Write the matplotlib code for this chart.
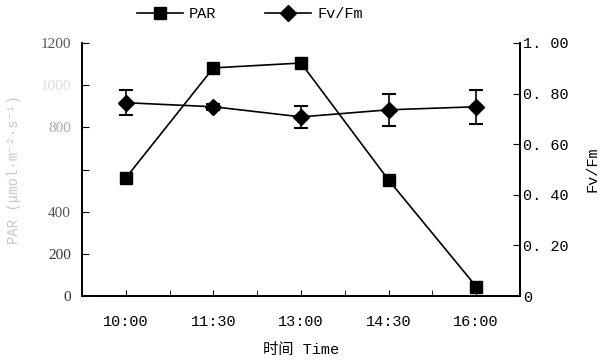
import matplotlib
matplotlib.use("Agg")
import matplotlib.pyplot as plt
from matplotlib.lines import Line2D
from matplotlib.ticker import MultipleLocator

plt.rcParams["font.family"] = ["Liberation Mono", "Noto Sans CJK SC", "DejaVu Sans"]

# data
times = ["10:00", "11:30", "13:00", "14:30", "16:00"]
par = [560, 1082, 1105, 550, 45]
fvfm = [0.764, 0.748, 0.708, 0.736, 0.748]
fvfm_err = [0.050, 0.012, 0.042, 0.064, 0.068]

par_ticks = [0, 200, 400, 600, 800, 1000, 1200]
par_ticklabels = ["0", "200", "400", "", "800", "1000", "1200"]
fv_ticks = [0, 0.2, 0.4, 0.6, 0.8, 1.0]
fv_ticklabels = ["0", "0. 20", "0. 40", "0. 60", "0. 80", "1. 00"]

fig, ax = plt.subplots(figsize=(6.03, 3.64), dpi=100)
fig.subplots_adjust(left=82/603, right=520/603, top=1-43/364, bottom=1-296/364)
ax2 = ax.twinx()

x = list(range(len(times)))
ax.plot(x, par, color="black", lw=1.2, marker="s", markersize=9, zorder=3)
ax2.errorbar(x, fvfm, yerr=fvfm_err, color="black", lw=1.2, marker="D",
             markersize=8, capsize=5, elinewidth=1.2, capthick=1.5, zorder=3)

ax.set_xlim(-0.5, 4.5)
ax.set_ylim(0, 1200)
ax2.set_ylim(0, 1.0)

ax.set_xticks(x)
ax.set_xticklabels(times, fontsize=11)
ax.xaxis.set_minor_locator(MultipleLocator(0.5))
ax.tick_params(axis="x", which="both", direction="in", length=4, pad=14)

ax.set_yticks(par_ticks)
ax.set_yticklabels(par_ticklabels, fontsize=11, family="Liberation Serif")
for lab, c in zip(ax.get_yticklabels(), ["#333333", "#333333", "#555555", "#cccccc",
                                          "#aaaaaa", "#dddddd", "#555555"]):
    lab.set_color(c)
ax.tick_params(axis="y", direction="in", length=5, pad=8)

ax2.set_yticks(fv_ticks)
ax2.set_yticklabels(fv_ticklabels, fontsize=11)
ax2.tick_params(axis="y", direction="in", length=5, pad=2)

for a in (ax, ax2):
    a.spines["top"].set_visible(False)
    for s in a.spines.values():
        s.set_linewidth(1.3)

ax.set_xlabel("时间 Time", fontsize=11, labelpad=10)
ax.set_ylabel("PAR (μmol·m⁻²·s⁻¹)", fontsize=10, color="#c8c8c8", labelpad=14,
              family=["Liberation Mono", "DejaVu Sans"])
ax2.set_ylabel("Fv/Fm", fontsize=11, labelpad=12)

h1 = Line2D([], [], color="black", lw=1.2, marker="s", markersize=9)
h2 = Line2D([], [], color="black", lw=1.2, marker="D", markersize=8)
fig.legend([h1, h2], ["PAR", "Fv/Fm"], loc="center", ncol=2,
           bbox_to_anchor=(250/603, 1-14/364), frameon=False, fontsize=11,
           handlelength=3, columnspacing=3.2, handletextpad=0.4)

fig.savefig("out.png", dpi=100)
